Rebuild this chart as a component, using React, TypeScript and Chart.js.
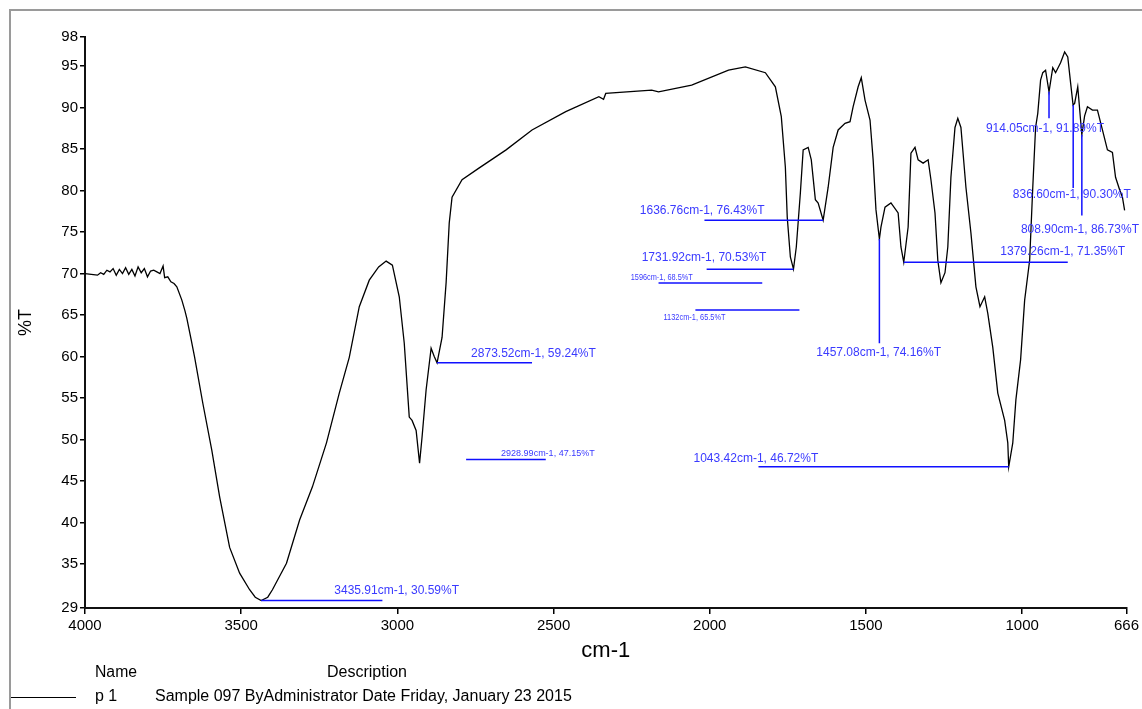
import React, { useEffect, useRef } from "react";
import { Chart, registerables } from "chart.js";

Chart.register(...registerables);

// ---- Spectrum data (wavenumber cm-1, %T) ----
const wavenumbers = [
  4000, 3980, 3960, 3950, 3940, 3930, 3920, 3910, 3900, 3890, 3880, 3870, 3860, 3850, 3840, 3830, 3820, 3810, 3800, 3790,
  3780, 3770, 3760, 3750, 3745, 3735, 3725, 3715, 3706, 3690, 3680, 3674, 3660, 3649, 3623, 3594, 3569, 3537, 3505, 3473,
  3455, 3436, 3415, 3400, 3355, 3313, 3272, 3227, 3186, 3154, 3122, 3090, 3060, 3036, 3016, 2994, 2978, 2962, 2953, 2940,
  2929, 2921, 2908, 2892, 2882, 2873, 2857, 2844, 2834, 2825, 2793, 2739, 2652, 2569, 2461, 2355, 2340, 2333, 2186, 2164,
  2058, 1940, 1886, 1822, 1790, 1771, 1758, 1752, 1742, 1732, 1723, 1710, 1701, 1685, 1675, 1662, 1653, 1637, 1621, 1605,
  1589, 1567, 1551, 1541, 1525, 1515, 1503, 1487, 1477, 1468, 1457, 1452, 1439, 1420, 1397, 1388, 1379, 1365, 1356, 1343,
  1333, 1317, 1301, 1292, 1279, 1270, 1260, 1247, 1238, 1228, 1215, 1206, 1196, 1180, 1164, 1148, 1135, 1120, 1110, 1094,
  1078, 1056, 1046, 1043, 1030, 1020, 1005, 992, 976, 966, 957, 950, 941, 934, 925, 914, 902, 893, 877, 864,
  854, 845, 837, 832, 822, 813, 809, 800, 791, 775, 759, 743, 727, 711, 701, 688, 679, 672,
];
const transmittance = [
  70.0, 69.9, 69.8, 70.1, 69.9, 70.4, 70.2, 70.6, 69.8, 70.5, 70.0, 70.7, 69.9, 70.5, 69.7, 70.8, 70.1, 70.6, 69.6, 70.3,
  70.4, 70.2, 70.0, 70.9, 69.5, 69.6, 69.0, 68.8, 68.4, 66.8, 65.5, 64.6, 62.0, 59.9, 54.4, 48.7, 43.1, 37.0, 33.9, 31.9,
  31.0, 30.59, 31.0, 31.9, 35.1, 40.3, 44.3, 49.6, 55.6, 59.9, 66.0, 69.2, 70.8, 71.5, 71.0, 67.2, 61.6, 52.7, 52.3, 51.1,
  47.15, 50.3, 56.0, 61.0, 60.0, 59.24, 62.3, 68.9, 76.1, 79.2, 81.3, 82.7, 84.9, 87.3, 89.5, 91.3, 91.0, 91.7, 92.1, 91.9,
  92.7, 94.5, 94.9, 94.2, 92.5, 88.9, 82.8, 76.8, 72.0, 70.53, 73.2, 79.7, 84.9, 85.2, 83.7, 78.9, 78.5, 76.43, 80.4, 85.2,
  87.3, 88.1, 88.3, 90.1, 92.5, 93.6, 90.9, 88.5, 83.7, 77.7, 74.16, 75.6, 78.0, 78.5, 77.3, 73.2, 71.35, 75.6, 84.5, 85.2,
  83.7, 83.3, 83.7, 81.3, 77.3, 71.6, 68.9, 70.1, 73.2, 81.6, 87.6, 88.7, 87.6, 80.4, 74.9, 68.4, 66.0, 67.2, 65.2, 61.1,
  55.6, 52.3, 49.6, 46.72, 49.6, 54.8, 59.6, 66.8, 71.6, 80.4, 87.6, 89.3, 93.3, 94.2, 94.5, 91.89, 94.8, 94.2, 95.4, 96.7,
  96.1, 93.0, 90.3, 90.5, 92.5, 88.5, 86.73, 89.0, 90.1, 89.7, 89.7, 87.3, 84.9, 84.6, 81.6, 80.1, 79.2, 77.6,
];

// ---- Axes ----
const xTickValues = [4000, 3500, 3000, 2500, 2000, 1500, 1000, 666];
const xTickLabels = ["4000", "3500", "3000", "2500", "2000", "1500", "1000", "666"];
const yTickValues = [29.7, 35, 40, 45, 50, 55, 60, 65, 70, 75, 80, 85, 90, 95, 98.5];
const yTickLabels = ["29", "35", "40", "45", "50", "55", "60", "65", "70", "75", "80", "85", "90", "95", "98"];

// ---- Peak annotations ----
const annotLabels = [
  "3435.91cm-1, 30.59%T",
  "2873.52cm-1, 59.24%T",
  "2928.99cm-1, 47.15%T",
  "1731.92cm-1, 70.53%T",
  "1636.76cm-1, 76.43%T",
  "1596cm-1, 68.5%T",
  "1132cm-1, 65.5%T",
  "1457.08cm-1, 74.16%T",
  "1379.26cm-1, 71.35%T",
  "1043.42cm-1, 46.72%T",
  "914.05cm-1, 91.89%T",
  "836.60cm-1, 90.30%T",
  "808.90cm-1, 86.73%T",
];
const annotTextWn = [3202, 2764, 2668, 2218, 2224, 2253, 2148, 1659, 1070, 2052, 1116, 1030, 1004];
const annotTextT = [31.4, 59.9, 48.0, 71.5, 77.2, 69.2, 64.4, 60.1, 72.2, 47.3, 87.0, 79.1, 74.9];
const annotSmall = [false, false, true, false, false, true, true, false, false, false, false, false, false];
const annotLineX1 = [3436, 2873.5, 2780, 1732, 1637, 2164, 2046, 1457, 1379, 1043, 914, 836.6, 808.9];
const annotLineY1 = [30.59, 59.24, 47.6, 70.53, 76.43, 68.85, 65.6, 74.16, 71.35, 46.72, 91.89, 90.3, 86.73];
const annotLineX2 = [3048, 2569, 2525, 2010, 2017, 1832, 1713, 1457, 854, 1844, 914, 836.6, 808.9];
const annotLineY2 = [30.59, 59.24, 47.6, 70.53, 76.43, 68.85, 65.6, 61.6, 71.35, 46.72, 88.7, 80.3, 77.0];

// ---- Legend ----
const legendHeaders = ["Name", "Description"];
const seriesName = "p 1";
const seriesDescription = "Sample 097 ByAdministrator Date Friday, January 23 2015";

const FONT = "'Liberation Sans', Arial, sans-serif";

const annotationPlugin = {
  id: "peakAnnotations",
  afterDatasetsDraw(chart: any) {
    const { ctx, scales } = chart;
    const xs = scales.x;
    const ys = scales.y;
    ctx.save();
    for (let i = 0; i < annotLabels.length; i++) {
      ctx.strokeStyle = "#1010ff";
      ctx.lineWidth = 1.5;
      ctx.beginPath();
      ctx.moveTo(xs.getPixelForValue(annotLineX1[i]), ys.getPixelForValue(annotLineY1[i]));
      ctx.lineTo(xs.getPixelForValue(annotLineX2[i]), ys.getPixelForValue(annotLineY2[i]));
      ctx.stroke();
      const small = annotSmall[i];
      ctx.font = (small ? "9px " : "12px ") + FONT;
      ctx.fillStyle = "#3a3aff";
      ctx.textBaseline = "alphabetic";
      ctx.textAlign = "left";
      const maxW = small ? (annotLabels[i].length > 17 ? 94 : 62) : 128;
      ctx.fillText(annotLabels[i], xs.getPixelForValue(annotTextWn[i]), ys.getPixelForValue(annotTextT[i]), maxW);
    }
    ctx.restore();
  },
};

const framePlugin = {
  id: "frameAndLegend",
  afterDraw(chart: any) {
    const { ctx } = chart;
    ctx.save();
    ctx.strokeStyle = "#9a9a9a";
    ctx.lineWidth = 2;
    ctx.beginPath();
    ctx.moveTo(10, 712);
    ctx.lineTo(10, 10);
    ctx.lineTo(1145, 10);
    ctx.stroke();
    ctx.fillStyle = "#000";
    ctx.font = "16px " + FONT;
    ctx.textBaseline = "middle";
    ctx.textAlign = "left";
    ctx.fillText(legendHeaders[0], 95, 673, 42);
    ctx.fillText(legendHeaders[1], 327, 673, 80);
    ctx.fillText(seriesName, 95, 697);
    ctx.fillText(seriesDescription, 155, 697, 422);
    ctx.strokeStyle = "#000";
    ctx.lineWidth = 1.2;
    ctx.beginPath();
    ctx.moveTo(11, 697.5);
    ctx.lineTo(76, 697.5);
    ctx.stroke();
    ctx.restore();
  },
};

export default function App() {
  const canvasRef = useRef<HTMLCanvasElement | null>(null);

  useEffect(() => {
    const canvas = canvasRef.current;
    if (!canvas) return;
    const chart = new Chart(canvas, {
      type: "line",
      data: {
        datasets: [
          {
            label: seriesName,
            data: wavenumbers.map((w, i) => ({ x: w, y: transmittance[i] })),
            borderColor: "#000",
            borderWidth: 1.3,
            pointRadius: 0,
            tension: 0,
            fill: false,
          },
        ],
      },
      options: {
        responsive: false,
        animation: false,
        devicePixelRatio: 1,
        layout: { padding: { left: 0, top: 37, right: 13, bottom: 41 } },
        plugins: {
          legend: { display: false },
          tooltip: { enabled: false },
          title: { display: false },
        },
        scales: {
          x: {
            type: "linear",
            reverse: true,
            min: 666,
            max: 4000,
            afterBuildTicks: (scale: any) => {
              scale.ticks = xTickValues.map((v) => ({ value: v }));
            },
            afterFit: (scale: any) => {
              scale.height = 60;
            },
            ticks: {
              autoSkip: false,
              maxRotation: 0,
              padding: 3,
              color: "#000",
              font: { family: FONT, size: 15 },
              callback: (_v: any, i: number) => xTickLabels[i],
            },
            grid: {
              drawOnChartArea: false,
              drawTicks: true,
              tickLength: 6,
              color: "#000",
              lineWidth: 1.5,
            },
            border: { display: true, color: "#111", width: 2 },
            title: {
              display: true,
              text: "cm-1",
              color: "#000",
              font: { family: FONT, size: 22 },
              padding: { top: 0, bottom: 4 },
            },
          },
          y: {
            type: "linear",
            min: 29.7,
            max: 98.5,
            afterBuildTicks: (scale: any) => {
              scale.ticks = yTickValues.map((v) => ({ value: v }));
            },
            afterFit: (scale: any) => {
              scale.width = 85;
            },
            ticks: {
              autoSkip: false,
              padding: 2,
              color: "#000",
              font: { family: FONT, size: 15 },
              callback: (_v: any, i: number) => yTickLabels[i],
            },
            grid: {
              drawOnChartArea: false,
              drawTicks: true,
              tickLength: 5,
              color: "#000",
              lineWidth: 1.5,
            },
            border: { display: true, color: "#111", width: 2 },
            title: {
              display: true,
              text: "%T",
              color: "#000",
              font: { family: FONT, size: 18 },
              padding: { top: 15, bottom: 0 },
            },
          },
        },
      },
      plugins: [annotationPlugin, framePlugin],
    } as any);
    return () => chart.destroy();
  }, []);

  return (
    <div style={{ position: "fixed", left: 0, top: 0, width: 1142, height: 709, background: "#fff" }}>
      <canvas ref={canvasRef} width={1142} height={709} style={{ display: "block" }} />
    </div>
  );
}
